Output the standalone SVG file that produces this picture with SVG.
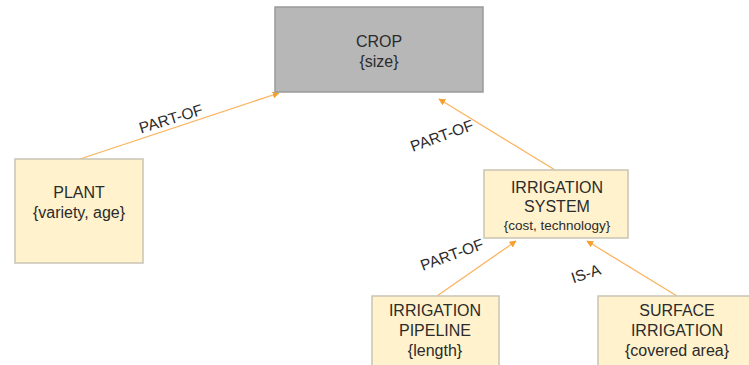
<svg xmlns="http://www.w3.org/2000/svg" width="749" height="365" viewBox="0 0 749 365">
<style>
.box{fill:#fff2cc;stroke:#c9c4b4;stroke-width:1.5}
.gray{fill:#b7b7b7;stroke:#9a9a9a;stroke-width:1.5}
text{font-family:"Liberation Sans",Arial,sans-serif;fill:#2b2b2b;text-anchor:middle}
.t{font-size:16px}
.s{font-size:13.5px}
.lbl{font-size:15.5px}
.edge{stroke:#fbb45e;stroke-width:1.3;fill:none;marker-end:url(#arr)}
</style>
<defs>
<marker id="arr" viewBox="0 0 10 10" refX="9" refY="5" markerWidth="7" markerHeight="7" markerUnits="userSpaceOnUse" orient="auto">
<path d="M0,0 L10,5 L0,10 z" fill="#f5a030"/>
</marker>
</defs>
<rect width="749" height="365" fill="#ffffff"/>
<g id="connectors">
<line class="edge" x1="80" y1="159" x2="279" y2="93"/>
<line class="edge" x1="555" y1="170" x2="439" y2="99"/>
<line class="edge" x1="437" y1="296" x2="516" y2="241"/>
<line class="edge" x1="677" y1="296" x2="587" y2="241"/>
<text class="lbl" transform="translate(171,119) rotate(-17)" y="5">PART-OF</text>
<text class="lbl" transform="translate(442,136) rotate(-20)" y="5">PART-OF</text>
<text class="lbl" transform="translate(452,255) rotate(-20)" y="5">PART-OF</text>
<text class="lbl" transform="translate(586,274) rotate(-18)" y="5">IS-A</text>
</g>
<g id="crop">
<rect class="gray" x="275" y="7" width="208" height="85"/>
<text class="t" x="379" y="47">CROP</text>
<text class="t" x="379" y="67">{size}</text>
</g>
<g id="plant">
<rect class="box" x="15" y="159" width="128" height="104"/>
<text class="t" x="79" y="198">PLANT</text>
<text class="t" x="79" y="218">{variety, age}</text>
</g>
<g id="irrigation-system">
<rect class="box" x="484" y="170" width="144" height="68"/>
<text class="t" x="557" y="193">IRRIGATION</text>
<text class="t" x="557" y="212">SYSTEM</text>
<text class="s" x="557" y="230">{cost, technology}</text>
</g>
<g id="irrigation-pipeline">
<rect class="box" x="372" y="296" width="127" height="75"/>
<text class="t" x="435" y="316">IRRIGATION</text>
<text class="t" x="435" y="336">PIPELINE</text>
<text class="t" x="435" y="356">{length}</text>
</g>
<g id="surface-irrigation">
<rect class="box" x="598" y="296" width="155" height="75"/>
<text class="t" x="677" y="316">SURFACE</text>
<text class="t" x="677" y="336">IRRIGATION</text>
<text class="t" x="677" y="356">{covered area}</text>
</g>
</svg>
